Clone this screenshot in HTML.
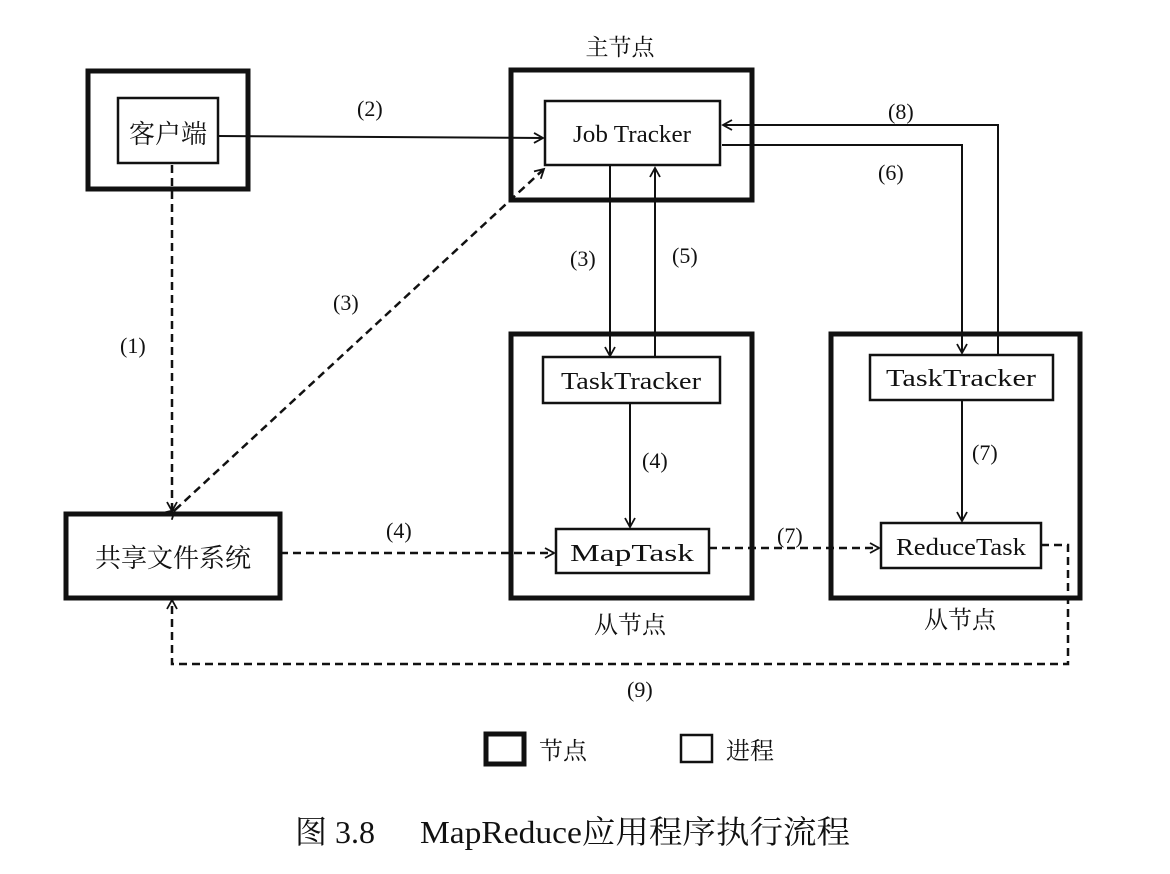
<!DOCTYPE html>
<html><head><meta charset="utf-8"><style>
html,body{margin:0;padding:0;background:#fff;}
svg{display:block;}
text{font-family:"Liberation Serif","Noto Serif CJK SC",serif;fill:#111;}
.cn{font-family:"Liberation Serif","Noto Sans CJK SC",sans-serif;}
</style></head><body>
<svg width="1170" height="874" viewBox="0 0 1170 874" xmlns="http://www.w3.org/2000/svg">
<defs>
<marker id="a" markerWidth="12" markerHeight="12" refX="10" refY="6" orient="auto" markerUnits="userSpaceOnUse">
<path d="M1,1 L10,6 L1,11" fill="none" stroke="#111" stroke-width="1.8"/>
</marker>
</defs>
<g fill="none" stroke="#111">
<rect x="88" y="71" width="160" height="118" stroke-width="5"/>
<rect x="511" y="70" width="241" height="130" stroke-width="5"/>
<rect x="511" y="334" width="241" height="264" stroke-width="5"/>
<rect x="831" y="334" width="249" height="264" stroke-width="5"/>
<rect x="66" y="514" width="214" height="84" stroke-width="5"/>
<rect x="118" y="98" width="100" height="65" stroke-width="2.5"/>
<rect x="545" y="101" width="175" height="64" stroke-width="2.5"/>
<rect x="543" y="357" width="177" height="46" stroke-width="2.5"/>
<rect x="556" y="529" width="153" height="44" stroke-width="2.5"/>
<rect x="870" y="355" width="183" height="45" stroke-width="2.5"/>
<rect x="881" y="523" width="160" height="45" stroke-width="2.5"/>
<rect x="486" y="734" width="38" height="30" stroke-width="5"/>
<rect x="681" y="735" width="31" height="27" stroke-width="2.5"/>
<g stroke-width="2">
<line x1="218" y1="136" x2="543" y2="138" marker-end="url(#a)"/>
<line x1="610" y1="166" x2="610" y2="356" marker-end="url(#a)"/>
<line x1="655" y1="357" x2="655" y2="168" marker-end="url(#a)"/>
<polyline points="998,355 998,125 723,125" marker-end="url(#a)"/>
<polyline points="722,145 962,145 962,353" marker-end="url(#a)"/>
<line x1="630" y1="403" x2="630" y2="527" marker-end="url(#a)"/>
<line x1="962" y1="400" x2="962" y2="521" marker-end="url(#a)"/>
</g>
<g stroke-width="2.5" stroke-dasharray="8,5">
<line x1="172" y1="165" x2="172" y2="511" marker-end="url(#a)"/>
<line x1="175" y1="510" x2="544" y2="169" marker-end="url(#a)" marker-start="url(#a)"/>
<line x1="280" y1="553" x2="554" y2="553" marker-end="url(#a)"/>
<line x1="709" y1="548" x2="879" y2="548" marker-end="url(#a)"/>
<polyline points="1041,545 1068,545 1068,664 172,664 172,600" marker-end="url(#a)"/>
</g>
</g>
<g font-size="22">
<text x="357" y="116">(2)</text>
<text x="120" y="353">(1)</text>
<text x="333" y="310">(3)</text>
<text x="570" y="266">(3)</text>
<text x="672" y="263">(5)</text>
<text x="888" y="119">(8)</text>
<text x="878" y="180">(6)</text>
<text x="642" y="468">(4)</text>
<text x="972" y="460">(7)</text>
<text x="386" y="538">(4)</text>
<text x="777" y="543">(7)</text>
<text x="627" y="697">(9)</text>
</g>
<g font-size="24" text-anchor="middle">
<text x="632" y="142" textLength="118" lengthAdjust="spacingAndGlyphs">Job Tracker</text>
<text x="631" y="389" textLength="140" lengthAdjust="spacingAndGlyphs">TaskTracker</text>
<text x="632" y="561" textLength="124" lengthAdjust="spacingAndGlyphs">MapTask</text>
<text x="961" y="386" textLength="150" lengthAdjust="spacingAndGlyphs">TaskTracker</text>
<text x="961" y="555" textLength="130" lengthAdjust="spacingAndGlyphs">ReduceTask</text>
</g>
<g class="cn" text-anchor="middle">
<text x="168" y="143" font-size="26">客户端</text>
<text x="173" y="567" font-size="26">共享文件系统</text>
<text x="620" y="55" font-size="23">主节点</text>
<text x="630" y="633" font-size="24">从节点</text>
<text x="960" y="628" font-size="24">从节点</text>
<text x="563" y="759" font-size="24">节点</text>
<text x="750" y="759" font-size="24">进程</text>
</g>
<text x="295" y="843" font-size="32">图 3.8</text>
<text x="420" y="843" font-size="32" textLength="430" lengthAdjust="spacingAndGlyphs">MapReduce应用程序执行流程</text>
</svg>
</body></html>
